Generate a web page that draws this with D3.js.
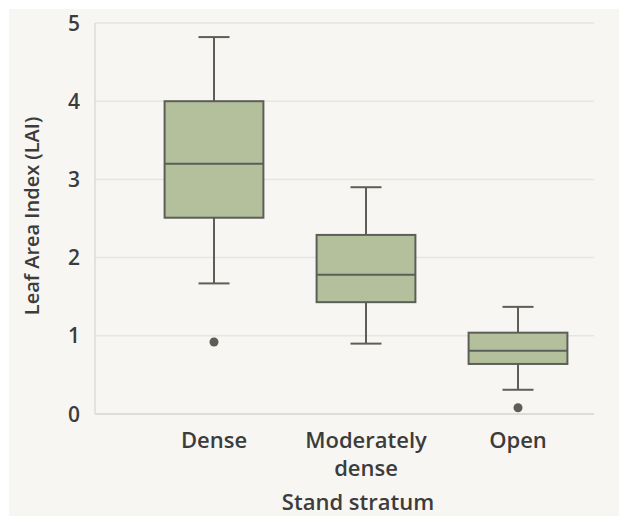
<!DOCTYPE html>
<html>
<head>
<meta charset="utf-8">
<script src="https://cdn.jsdelivr.net/npm/d3@7"></script>
<style>
  body { margin: 0; background: #ffffff; }
  text { font-family: "Open Sans", "Noto Sans", sans-serif; fill: #3c3c3c; font-weight: 600; }
</style>
</head>
<body>
<svg id="chart" width="619" height="516"></svg>
<script>
// box stats
var categories = ["Dense", "Moderately dense", "Open"];
var whiskerLow = [1.67, 0.90, 0.31];
var q1 = [2.51, 1.43, 0.64];
var median = [3.20, 1.78, 0.81];
var q3 = [4.00, 2.29, 1.04];
var whiskerHigh = [4.82, 2.90, 1.37];
var outliers = [[0.92], [], [0.08]];
var yTicks = [0, 1, 2, 3, 4, 5];

var svg = d3.select("#chart");

// background panel
svg.append("rect")
    .attr("x", 9).attr("y", 9)
    .attr("width", 610).attr("height", 507)
    .attr("fill", "#f8f6f3");

var plotLeft = 95, plotRight = 594, plotTop = 23, plotBottom = 414;

var y = d3.scaleLinear().domain([0, 5]).range([plotBottom, plotTop]);
var x = d3.scaleBand().domain(categories).range([138, 594]).paddingInner(0.35).paddingOuter(0.175);

// gridlines
svg.append("g").selectAll("line")
    .data(yTicks)
    .enter().append("line")
    .attr("x1", plotLeft).attr("x2", plotRight)
    .attr("y1", d => y(d)).attr("y2", d => y(d))
    .attr("stroke", d => d === 0 ? "#d6d3ce" : "#e8e5e0")
    .attr("stroke-width", 1.5);

svg.append("line")
    .attr("x1", plotLeft).attr("x2", plotLeft)
    .attr("y1", plotTop).attr("y2", plotBottom)
    .attr("stroke", "#dedbd6").attr("stroke-width", 1.5);

// y tick labels
svg.append("g").selectAll("text")
    .data(yTicks)
    .enter().append("text")
    .attr("x", 80).attr("y", d => y(d))
    .attr("dy", "0.36em")
    .attr("text-anchor", "end")
    .style("font-size", "21px")
    .text(d => d);

// y title
svg.append("text")
    .attr("transform", "translate(39,216) rotate(-90)")
    .attr("text-anchor", "middle")
    .style("font-size", "20px")
    .text("Leaf Area Index (LAI)");

var stroke = "#5b5f57";
var boxes = svg.append("g").selectAll("g")
    .data(categories)
    .enter().append("g");

var capW = 31;
boxes.each(function(c, i) {
    var g = d3.select(this);
    var cx = x(c) + x.bandwidth() / 2;
    // whiskers
    g.append("line")
        .attr("x1", cx).attr("x2", cx)
        .attr("y1", y(whiskerHigh[i])).attr("y2", y(q3[i]))
        .attr("stroke", stroke).attr("stroke-width", 2);
    g.append("line")
        .attr("x1", cx).attr("x2", cx)
        .attr("y1", y(q1[i])).attr("y2", y(whiskerLow[i]))
        .attr("stroke", stroke).attr("stroke-width", 2);
    [whiskerHigh[i], whiskerLow[i]].forEach(function(v) {
        g.append("line")
            .attr("x1", cx - capW / 2).attr("x2", cx + capW / 2)
            .attr("y1", y(v)).attr("y2", y(v))
            .attr("stroke", stroke).attr("stroke-width", 2);
    });
    g.append("rect")
        .attr("x", x(c)).attr("width", x.bandwidth())
        .attr("y", y(q3[i])).attr("height", y(q1[i]) - y(q3[i]))
        .attr("fill", "#b4bf9b")
        .attr("stroke", stroke).attr("stroke-width", 2);
    g.append("line")
        .attr("x1", x(c)).attr("x2", x(c) + x.bandwidth())
        .attr("y1", y(median[i])).attr("y2", y(median[i]))
        .attr("stroke", stroke).attr("stroke-width", 2);
    g.selectAll("circle")
        .data(outliers[i])
        .enter().append("circle")
        .attr("cx", cx).attr("cy", d => y(d))
        .attr("r", 4.5)
        .attr("fill", "#5b5f57");
});

// x labels
var labelLines = [["Dense"], ["Moderately", "dense"], ["Open"]];
svg.append("g").selectAll("text")
    .data(categories)
    .enter().append("text")
    .attr("x", d => x(d) + x.bandwidth() / 2)
    .attr("y", 448)
    .attr("text-anchor", "middle")
    .style("font-size", "22px")
    .each(function(d, i) {
        var t = d3.select(this);
        labelLines[i].forEach(function(line, j) {
            t.append("tspan")
                .attr("x", x(d) + x.bandwidth() / 2)
                .attr("dy", j === 0 ? 0 : 28)
                .text(line);
        });
    });

svg.append("text")
    .attr("x", 358).attr("y", 510)
    .attr("text-anchor", "middle")
    .style("font-size", "22px")
    .text("Stand stratum");
</script>
</body>
</html>
